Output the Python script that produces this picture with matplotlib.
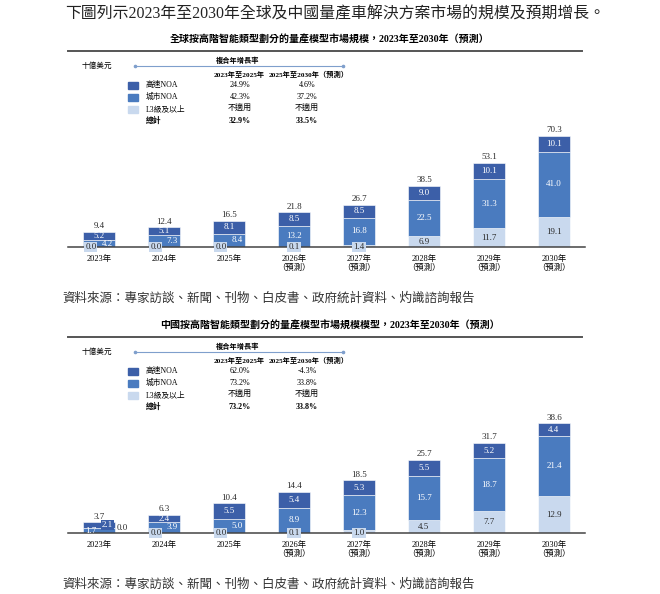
import matplotlib.pyplot as plt
import numpy as np
from matplotlib.lines import Line2D
from matplotlib.patches import Rectangle

plt.rcParams['font.family'] = ['Liberation Serif', 'Noto Sans CJK TC']

W, H = 660, 594

# ---------------------------------------------------------------------------
# Data
# ---------------------------------------------------------------------------

years = ["2023年", "2024年", "2025年", "2026年\n（預測）", "2027年\n（預測）",
         "2028年\n（預測）", "2029年\n（預測）", "2030年\n（預測）"]

global_l3 = [0.0, 0.0, 0.0, 0.1, 1.4, 6.9, 11.7, 19.1]
global_city = [4.2, 7.3, 8.4, 13.2, 16.8, 22.5, 31.3, 41.0]
global_highway = [5.2, 5.1, 8.1, 8.5, 8.5, 9.0, 10.1, 10.1]
global_total = [9.4, 12.4, 16.5, 21.8, 26.7, 38.5, 53.1, 70.3]

china_l3 = [0.0, 0.0, 0.0, 0.1, 1.0, 4.5, 7.7, 12.9]
china_city = [1.7, 3.9, 5.0, 8.9, 12.3, 15.7, 18.7, 21.4]
china_highway = [2.1, 2.4, 5.5, 5.4, 5.3, 5.5, 5.2, 4.4]
china_total = [3.7, 6.3, 10.4, 14.4, 18.5, 25.7, 31.7, 38.6]

legend_labels = ["高速NOA", "城市NOA", "L3級及以上", "總計"]
cagr_periods = ["2023年至2025年", "2025年至2030年（預測）"]
global_cagr_early = ["24.9%", "42.3%", "不適用", "32.9%"]
global_cagr_late = ["4.6%", "37.2%", "不適用", "33.5%"]
china_cagr_early = ["62.0%", "73.2%", "不適用", "73.2%"]
china_cagr_late = ["-4.3%", "33.8%", "不適用", "33.8%"]

header = "下圖列示2023年至2030年全球及中國量產車解決方案市場的規模及預期增長。"
global_title = "全球按高階智能類型劃分的量產模型市場規模，2023年至2030年（預測）"
china_title = "中國按高階智能類型劃分的量產模型市場規模模型，2023年至2030年（預測）"
source = "資料來源：專家訪談、新聞、刊物、白皮書、政府統計資料、灼識諮詢報告"

HW_COLOR = "#3c5fa8"
CITY_COLOR = "#4a7bbf"
L3_COLOR = "#c9d9ee"
DARK_TEXT = "#2b2b2b"


def fx(px):
    return px / W


def fy(py):
    return 1 - py / H


def draw_panel(fig, dy, title, l3, city, hw, totals, ymax, cagr_early, cagr_late):
    l3 = np.array(l3)
    city = np.array(city)
    hw = np.array(hw)

    fig.text(fx(330), fy(40 + dy), title, ha="center", va="center",
             fontsize=7.2, fontweight="bold")
    fig.add_artist(Line2D([fx(68), fx(582)], [fy(51 + dy)] * 2,
                          color="#555555", lw=1.4))

    # legend / CAGR table
    fig.text(fx(82), fy(66 + dy), "十億美元", ha="left", va="center", fontsize=5.5)
    fig.text(fx(238), fy(60 + dy), "複合年增長率", ha="center", va="center",
             fontsize=5.2, fontweight="bold")
    fig.add_artist(Line2D([fx(135), fx(343)], [fy(66 + dy)] * 2, color="#7f9fcc",
                          lw=0.8, marker="o", markersize=1.6, markevery=[0, 1]))
    fig.text(fx(239), fy(74 + dy), cagr_periods[0], ha="center", va="center",
             fontsize=5.2, fontweight="bold")
    fig.text(fx(309), fy(74 + dy), cagr_periods[1], ha="center", va="center",
             fontsize=5.2, fontweight="bold")
    row_y = [85, 97, 109, 121]
    sq_colors = [HW_COLOR, CITY_COLOR, L3_COLOR, None]
    for i, lab in enumerate(legend_labels):
        yy = row_y[i] + dy
        weight = "bold" if i == 3 else "normal"
        if sq_colors[i]:
            fig.add_artist(Rectangle((fx(128), fy(yy + 3.5)), 10 / W, 7 / H,
                                     transform=fig.transFigure, color=sq_colors[i]))
        fig.text(fx(146), fy(yy), lab, ha="left", va="center", fontsize=5.6,
                 fontweight=weight)
        fig.text(fx(240), fy(yy), cagr_early[i], ha="center", va="center",
                 fontsize=5.8, fontweight=weight)
        fig.text(fx(307), fy(yy), cagr_late[i], ha="center", va="center",
                 fontsize=5.8, fontweight=weight)

    # stacked bars
    base = 247 + dy
    ax = fig.add_axes([fx(68), fy(base), (585 - 68) / W, 117 / H])
    x = np.arange(len(years))
    width = 0.49
    ax.bar(x, l3, width, color=L3_COLOR, edgecolor="white", lw=0.4)
    ax.bar(x, city, width, bottom=l3, color=CITY_COLOR, edgecolor="white", lw=0.4)
    ax.bar(x, hw, width, bottom=l3 + city, color=HW_COLOR, edgecolor="white", lw=0.4)
    ax.set_xlim(-0.477, 7.477)
    ax.set_ylim(0, ymax)
    for s in ["top", "left", "right"]:
        ax.spines[s].set_visible(False)
    ax.spines["bottom"].set_color("#444444")
    ax.spines["bottom"].set_linewidth(1.1)
    ax.spines["bottom"].set_zorder(3)
    ax.set_yticks([])
    ax.set_xticks(x)
    ax.set_xticklabels(years, fontsize=6, linespacing=1.15)
    ax.tick_params(axis="x", length=0, pad=5.5)
    ax.patch.set_alpha(0)

    off = 0.125
    fs = 6.5
    for i in range(len(x)):
        short = totals[i] < 5
        # total on top
        ax.text(x[i], totals[i] + ymax * 0.015, f"{totals[i]:.1f}", ha="center",
                va="bottom", fontsize=fs, color=DARK_TEXT)
        # highway segment
        hx = x[i] + (off if short else 0)
        ax.text(hx, l3[i] + city[i] + hw[i] / 2, f"{hw[i]:.1f}", ha="center",
                va="center", fontsize=fs, color="white", zorder=4,
                bbox=dict(boxstyle="square,pad=0.1", fc=HW_COLOR, ec="none") if short else None)
        # city segment
        if short:
            cx = x[i] - off
        elif l3[i] == 0:
            cx = x[i] + off
        else:
            cx = x[i]
        ax.text(cx, l3[i] + city[i] / 2, f"{city[i]:.1f}", ha="center", va="center",
                fontsize=fs, color="white", zorder=4)
        # L3 segment
        if l3[i] >= 2:
            ax.text(x[i], l3[i] / 2, f"{l3[i]:.1f}", ha="center", va="center",
                    fontsize=fs, color=DARK_TEXT, zorder=4)
        elif short:
            ax.text(x[i] + 0.35, totals[i] / 2, f"{l3[i]:.1f}", ha="center",
                    va="center", fontsize=fs, color=DARK_TEXT, zorder=4)
        else:
            lx = x[i] - off if l3[i] == 0 else x[i]
            ax.text(lx, 0, f"{l3[i]:.1f}", ha="center", va="center", fontsize=fs,
                    color=DARK_TEXT, zorder=5,
                    bbox=dict(boxstyle="square,pad=0.1", fc=L3_COLOR, ec="none"))

    fig.text(fx(62), fy(298 + dy), source, ha="left", va="center", fontsize=9,
             color="#333333")


def main() -> None:
    fig = plt.figure(figsize=(W / 100, H / 100), dpi=100)
    fig.text(fx(65), fy(14), header, ha="left", va="center", fontsize=11.4,
             color="#222222")
    draw_panel(fig, 0, global_title, global_l3, global_city, global_highway,
               global_total, 73.7, global_cagr_early, global_cagr_late)
    draw_panel(fig, 286, china_title, china_l3, china_city, china_highway,
               china_total, 41.3, china_cagr_early, china_cagr_late)
    fig.savefig("out.png", dpi=100)
    plt.close(fig)


if __name__ == "__main__":
    main()
